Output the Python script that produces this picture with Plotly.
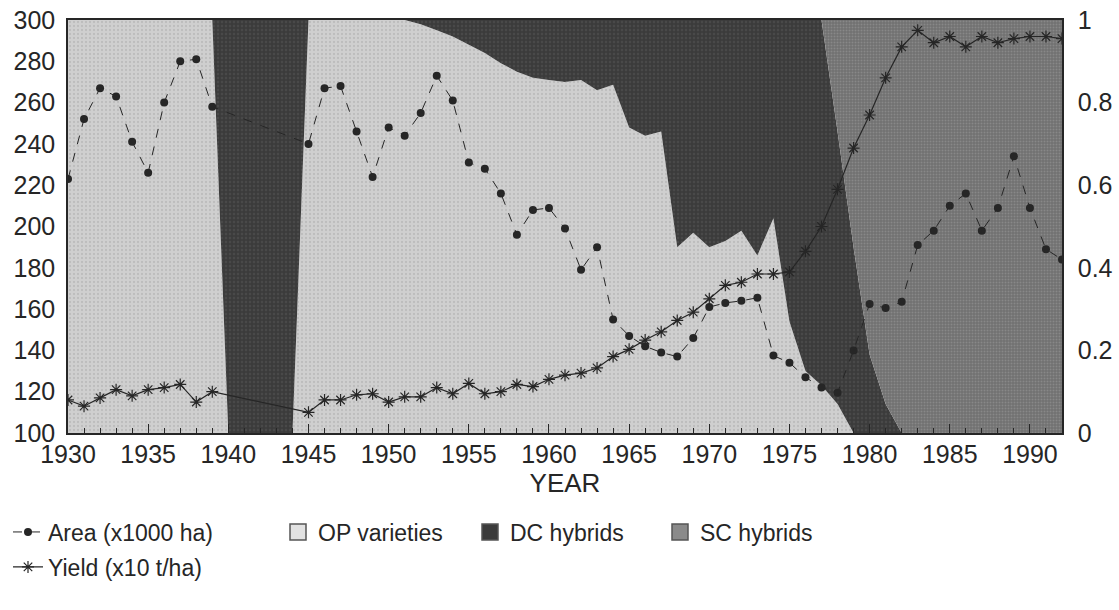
import plotly.graph_objects as go

years = list(range(1930, 1993))

# Area (x1000 ha), left axis; None = no data (1940-1944)
area = [223, 252, 267, 263, 241, 226, 260, 280, 281, 258,
        None, None, None, None, None,
        240, 267, 268, 246, 224, 248, 244, 255, 273, 261,
        231, 228, 216, 196, 208, 209, 199, 179, 190, 155,
        147, 142, 139, 137, 146, 161, 163, 164, 165.5, 137.5,
        134, 127, 122, 119.5, 140, 162.5, 160.5, 163.5, 191, 198,
        210, 216, 198, 209, 234, 209, 189, 184]

# Yield (x10 t/ha), left axis
yld = [116, 113, 117, 121, 118, 121, 122, 123.5, 115, 120,
       None, None, None, None, None,
       110, 116, 116, 118.5, 119, 115, 117.5, 117.5, 122, 119,
       124, 119, 120, 123.5, 122.5, 126, 128, 129, 131.5, 137,
       140.5, 145, 149, 154.5, 158.5, 165, 171.5, 173, 177, 177,
       178, 188, 200, 218, 238, 254, 272, 287, 295, 289,
       292, 287, 292, 289, 291, 292, 292, 291]

# Shares of area (right axis, 0-1)
op_share = [1, 1, 1, 1, 1, 1, 1, 1, 1, 1,
            0, 0, 0, 0, 0,
            1, 1, 1, 1, 1, 1, 1, 0.99, 0.975, 0.96,
            0.94, 0.92, 0.895, 0.875, 0.86, 0.855, 0.85, 0.855, 0.83, 0.843,
            0.74, 0.72, 0.73, 0.45, 0.485, 0.45, 0.465, 0.49, 0.43, 0.52,
            0.27, 0.15, 0.115, 0.07, 0, 0, 0, 0, 0, 0,
            0, 0, 0, 0, 0, 0, 0, 0]
dc_share = [0, 0, 0, 0, 0, 0, 0, 0, 0, 0,
            1, 1, 1, 1, 1,
            0, 0, 0, 0, 0, 0, 0, 0.01, 0.025, 0.04,
            0.06, 0.08, 0.105, 0.125, 0.14, 0.145, 0.15, 0.145, 0.17, 0.157,
            0.26, 0.28, 0.27, 0.55, 0.515, 0.55, 0.535, 0.51, 0.57, 0.48,
            0.73, 0.85, 0.885, 0.66, 0.45, 0.19, 0.07, 0, 0, 0,
            0, 0, 0, 0, 0, 0, 0, 0]
sc_share = [0, 0, 0, 0, 0, 0, 0, 0, 0, 0,
            0, 0, 0, 0, 0,
            0, 0, 0, 0, 0, 0, 0, 0, 0, 0,
            0, 0, 0, 0, 0, 0, 0, 0, 0, 0,
            0, 0, 0, 0, 0, 0, 0, 0, 0, 0,
            0, 0, 0, 0.27, 0.55, 0.81, 0.93, 1, 1, 1,
            1, 1, 1, 1, 1, 1, 1, 1]

x_ticks = [1930, 1935, 1940, 1945, 1950, 1955, 1960, 1965, 1970, 1975, 1980, 1985, 1990]

OP_C = "#cfcfcf"
DC_C = "#3b3b3b"
SC_C = "#707070"
INK = "#262626"
FONT = "Liberation Sans, Arial, sans-serif"
W, H = 1119, 610

fig = go.Figure()

# stacked shares (primary y axis, drawn on the right)
fig.add_trace(go.Scatter(x=years, y=op_share, stackgroup="s", mode="none",
                         fillcolor=OP_C, showlegend=False, yaxis="y",
                         fillpattern=dict(shape=".", bgcolor=OP_C, fgcolor="#a9a9a9",
                                          size=4, solidity=0.25)))
fig.add_trace(go.Scatter(x=years, y=dc_share, stackgroup="s", mode="none",
                         fillcolor=DC_C, showlegend=False, yaxis="y",
                         fillpattern=dict(shape=".", bgcolor=DC_C, fgcolor="#555555",
                                          size=4, solidity=0.3)))
fig.add_trace(go.Scatter(x=years, y=sc_share, stackgroup="s", mode="none",
                         fillcolor=SC_C, showlegend=False, yaxis="y",
                         fillpattern=dict(shape=".", bgcolor=SC_C, fgcolor="#a0a0a0",
                                          size=3, solidity=0.35)))

# lines (overlay axis y2 on the left, drawn above the areas)
fig.add_trace(go.Scatter(x=years, y=area, yaxis="y2", mode="lines+markers",
                         connectgaps=True, name="Area (x1000 ha)",
                         line=dict(color=INK, width=1, dash="dash"),
                         marker=dict(symbol="circle", size=8, color=INK),
                         legend="legend"))
fig.add_trace(go.Scatter(x=years, y=yld, yaxis="y2", mode="lines+markers",
                         connectgaps=True, name="Yield (x10 t/ha)",
                         line=dict(color=INK, width=1.2),
                         marker=dict(symbol="asterisk-open", size=10,
                                     line=dict(color=INK, width=1.2)),
                         legend="legend5"))

# legend swatches (legend entries only, placed below the visible range)
for nm, col, lg in [("OP varieties", "#e2e2e2", "legend2"),
                    ("DC hybrids", DC_C, "legend3"),
                    ("SC hybrids", "#8a8a8a", "legend4")]:
    fig.add_trace(go.Scatter(x=[1930], y=[-10], yaxis="y2", mode="markers", name=nm,
                             marker=dict(symbol="square", size=17, color=col,
                                         line=dict(color="#555555", width=1.5)),
                             legend=lg, hoverinfo="skip"))

def leg(xpx, ypx):
    return dict(x=xpx / W, y=1 - ypx / H, xref="container", yref="container",
                xanchor="left", yanchor="middle", bgcolor="rgba(0,0,0,0)",
                font=dict(family=FONT, size=23, color=INK), itemwidth=30,
                borderwidth=0)

fig.update_layout(
    width=W, height=H,
    margin=dict(l=68, r=57, t=20, b=177, autoexpand=False),
    paper_bgcolor="white", plot_bgcolor="white",
    font=dict(family=FONT, color=INK),
    legend=leg(8, 532), legend2=leg(278, 532), legend3=leg(470, 532),
    legend4=leg(660, 532), legend5=leg(8, 567),
    xaxis=dict(range=[1930, 1992], tickvals=x_ticks, ticks="inside", ticklen=9,
               tickcolor=INK, tickwidth=1.2, showline=True, linecolor=INK,
               linewidth=1.5, mirror=True, showgrid=False, zeroline=False,
               tickangle=0, automargin=False, ticklabelstandoff=-2,
               ticklabeloverflow="allow",
               tickfont=dict(size=25, color=INK),
               minor=dict(dtick=1, tick0=1930, ticks="inside", ticklen=5,
                          tickcolor=INK, tickwidth=1, showgrid=False),
               title=dict(text="YEAR", font=dict(size=26, color=INK), standoff=4)),
    yaxis=dict(range=[0, 1], side="right", dtick=0.2, showgrid=False, zeroline=False,
               showline=True, linecolor=INK, linewidth=1.5, ticks="", automargin=False,
               ticklabelstandoff=9, ticklabeloverflow="allow",
               tickfont=dict(size=25, color=INK)),
    yaxis2=dict(range=[100, 300], overlaying="y", side="left", dtick=20,
                showgrid=False, zeroline=False, showline=True, linecolor=INK,
                linewidth=1.5, ticks="", ticklabelstandoff=6, automargin=False,
                ticklabeloverflow="allow",
                tickfont=dict(size=25, color=INK)),
)

fig.write_html("out.html", config={"displayModeBar": False},
               post_script="document.body.style.margin='0';")
